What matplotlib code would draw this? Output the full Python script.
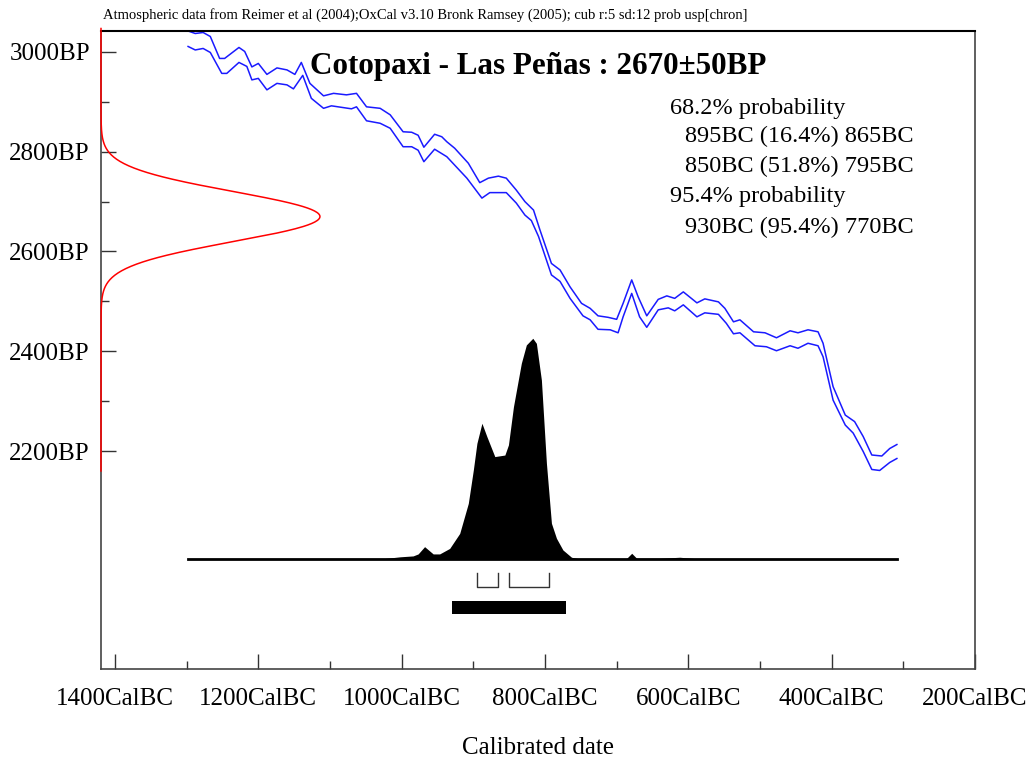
import numpy as np
import matplotlib
matplotlib.use("Agg")
import matplotlib.pyplot as plt
from matplotlib.ticker import FixedLocator

plt.rcParams['font.family'] = ['Liberation Serif', 'DejaVu Serif']

# radiocarbon measurement
C14_MEAN = 2670
C14_ERR = 50

# calibration curve envelope (cal BC, BP)
UPPER_CAL = [1298, 1288, 1277, 1267, 1254, 1247, 1227, 1219, 1209, 1200, 1188, 1174, 1160, 1149,
             1140, 1128, 1109, 1095, 1077, 1063, 1049, 1030, 1016, 998, 986, 977, 969, 954, 944,
             937, 926, 907, 891, 879, 865, 854, 840, 828, 816, 807, 791, 779, 765, 749, 737, 726,
             712, 700, 691, 679, 670, 658, 642, 630, 619, 607, 588, 577, 558, 549, 537, 528, 509,
             493, 477, 458, 447, 433, 419, 412, 398, 381, 368, 356, 344, 330, 319, 309]
UPPER_BP = [3042, 3037, 3039, 3031, 2987, 2987, 3009, 3001, 2970, 2977, 2955, 2968, 2964, 2955,
            2979, 2937, 2912, 2917, 2914, 2917, 2890, 2887, 2874, 2840, 2839, 2833, 2809, 2835, 2830,
            2820, 2807, 2777, 2738, 2747, 2751, 2747, 2723, 2700, 2683, 2643, 2576, 2563, 2529, 2496,
            2486, 2471, 2468, 2464, 2496, 2543, 2509, 2471, 2504, 2511, 2506, 2519, 2497, 2505, 2499,
            2486, 2459, 2463, 2439, 2437, 2427, 2441, 2437, 2443, 2439, 2416, 2329, 2272, 2259, 2229,
            2192, 2190, 2205, 2213]

LOWER_CAL = [1298, 1288, 1277, 1267, 1251, 1244, 1227, 1216, 1209, 1200, 1188, 1174, 1160, 1151,
             1138, 1126, 1109, 1098, 1070, 1063, 1049, 1030, 1016, 998, 986, 977, 969, 954, 937,
             909, 888, 877, 854, 840, 828, 819, 809, 791, 779, 765, 747, 737, 726, 709, 698, 691,
             679, 668, 658, 642, 628, 619, 607, 588, 577, 558, 547, 537, 528, 507, 491, 477, 458,
             447, 433, 419, 412, 398, 381, 370, 356, 344, 333, 319, 309]
LOWER_BP = [3011, 3004, 3007, 2999, 2957, 2957, 2979, 2971, 2944, 2947, 2924, 2937, 2934, 2926,
            2953, 2907, 2887, 2892, 2886, 2890, 2862, 2857, 2847, 2810, 2810, 2803, 2780, 2805, 2790,
            2747, 2707, 2718, 2718, 2697, 2673, 2662, 2630, 2553, 2540, 2506, 2471, 2463, 2444, 2443,
            2437, 2469, 2516, 2469, 2448, 2483, 2487, 2481, 2493, 2469, 2477, 2474, 2456, 2435, 2437,
            2411, 2409, 2401, 2411, 2406, 2416, 2411, 2389, 2302, 2252, 2236, 2199, 2163, 2161, 2177,
            2185]

# calibrated probability (relative to peak)
DIST_CAL = [1030, 1002, 984, 977, 968, 956, 947, 933, 919, 907, 900, 895, 888, 881, 870, 856,
            851, 844, 833, 826, 817, 812, 805, 798, 791, 784, 775, 763, 751, 695, 687, 679, 672,
            640, 612, 584]
DIST_P = [0, 0.01, 0.014, 0.023, 0.056, 0.023, 0.023, 0.048, 0.116, 0.252, 0.403, 0.524, 0.615,
          0.554, 0.464, 0.471, 0.517, 0.69, 0.887, 0.97, 1.0, 0.977, 0.811, 0.434, 0.162, 0.094,
          0.041, 0.008, 0, 0, 0, 0.026, 0.003, 0.003, 0.008, 0]
CURVE_START, CURVE_END = 1298, 309

# ranges
RANGES_68 = [(895, 865), (850, 795)]
RANGES_95 = [(930, 770)]
RANGE_TEXT = ["68.2% probability", "895BC (16.4%) 865BC", "850BC (51.8%) 795BC",
              "95.4% probability", "930BC (95.4%) 770BC"]

TITLE = "Cotopaxi - Las Peñas : 2670±50BP"
HEADER = ("Atmospheric data from Reimer et al (2004);OxCal v3.10 Bronk Ramsey (2005); "
          "cub r:5 sd:12 prob usp[chron]")

X_MAJOR = [1400, 1200, 1000, 800, 600, 400, 200]
X_MINOR = [1300, 1100, 900, 700, 500, 300]
Y_MAJOR = [2200, 2400, 2600, 2800, 3000]
Y_MINOR = [2300, 2500, 2700, 2900]

XLIM = (1419.5, 200)
YLIM = (1763, 3042)
BASE = 1983.5       # baseline of the calibrated distribution (BP units)
DIST_H = 442.5      # peak height of calibrated distribution
GAUSS_W = 305.5     # width of the BP gaussian (cal years)

fig = plt.figure(figsize=(10.32, 7.6), dpi=100)
ax = fig.add_axes([101 / 1032, 91 / 760, 874 / 1032, 638 / 760])
ax.set_xlim(*XLIM)
ax.set_ylim(*YLIM)

# calibration curve
ax.plot(UPPER_CAL, UPPER_BP, color='#1a1aff', lw=1.1, solid_joinstyle='round')
ax.plot(LOWER_CAL, LOWER_BP, color='#1a1aff', lw=1.1, solid_joinstyle='round')

# radiocarbon date distribution along the y axis
bp = np.linspace(C14_MEAN - 10.2 * C14_ERR, YLIM[1] + 5, 600)
g = np.exp(-0.5 * ((bp - C14_MEAN) / C14_ERR) ** 2)
ax.plot(XLIM[0] - GAUSS_W * g, bp, color='red', lw=1.1, clip_on=False, zorder=5)

# calibrated distribution
dist_y = BASE + DIST_H * np.array(DIST_P)
ax.fill_between(DIST_CAL, BASE, dist_y, color='black', lw=0)
ax.plot([CURVE_START, CURVE_END], [BASE, BASE], color='black', lw=2)

# range brackets
for a, b in RANGES_68:
    ax.plot([a, a, b, b], [1955, 1927, 1927, 1955], color='#333333', lw=1)
for a, b in RANGES_95:
    ax.fill_between([a, b], 1873, 1899, color='black', lw=0)

# texts
ax.text(0.5, 0.945, TITLE, transform=ax.transAxes, ha='center', va='center',
        fontsize=22.4, fontweight='bold')
text_x = [0.651, 0.668, 0.668, 0.651, 0.668]
text_y = [0.879, 0.834, 0.787, 0.740, 0.692]
for tx, ty, s in zip(text_x, text_y, RANGE_TEXT):
    ax.text(tx, ty, s, transform=ax.transAxes, ha='left', va='center', fontsize=17.5)
fig.text(103 / 1032, 1 - 15 / 760, HEADER, ha='left', va='center', fontsize=10.5)

# axes
ax.xaxis.set_major_locator(FixedLocator(X_MAJOR))
ax.xaxis.set_minor_locator(FixedLocator(X_MINOR))
ax.yaxis.set_major_locator(FixedLocator(Y_MAJOR))
ax.yaxis.set_minor_locator(FixedLocator(Y_MINOR))
ax.set_xticklabels([f"{v}CalBC" for v in X_MAJOR])
ax.set_yticklabels([f"{v}BP" for v in Y_MAJOR])
ax.tick_params(which='major', direction='in', length=11, width=1, color='#333333',
               labelsize=18)
ax.tick_params(which='minor', direction='in', length=6, width=1, color='#333333')
ax.tick_params(axis='x', pad=14)
ax.tick_params(axis='y', pad=8)
ax.set_xlabel("Calibrated date", fontsize=18, labelpad=19)
for side in ['left', 'bottom', 'right']:
    ax.spines[side].set_color('#444444')
    ax.spines[side].set_linewidth(1.2)
ax.spines['top'].set_color('black')
ax.spines['top'].set_linewidth(1.5)

fig.savefig('out.png', dpi=100)
